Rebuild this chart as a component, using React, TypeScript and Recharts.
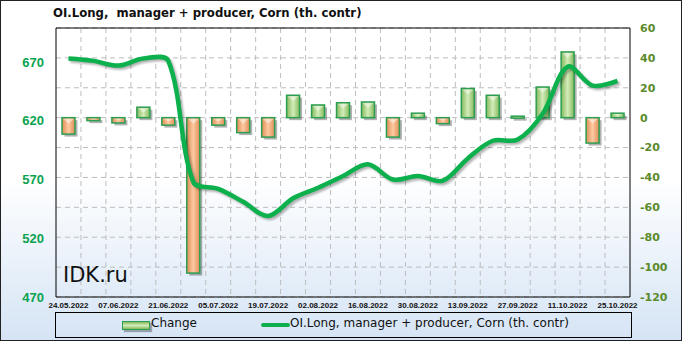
import React from "react";
import {
  Bar,
  CartesianGrid,
  ComposedChart,
  Line,
  ReferenceLine,
  XAxis,
  YAxis
} from "recharts";

const dates = [
  "24.05.2022", "31.05.2022", "07.06.2022", "14.06.2022", "21.06.2022",
  "28.06.2022", "05.07.2022", "12.07.2022", "19.07.2022", "26.07.2022",
  "02.08.2022", "09.08.2022", "16.08.2022", "23.08.2022", "30.08.2022",
  "06.09.2022", "13.09.2022", "20.09.2022", "27.09.2022", "04.10.2022",
  "11.10.2022", "18.10.2022", "25.10.2022"
];

const changeValues = [
  -11, -2, -3.5, 7, -5, -104, -5, -10, -13, 15, 8.5, 10, 10.5, -13, 3, -4,
  19.5, 15, 1, 20.5, 44, -17, 3
];

const oiValues = [
  673, 671, 667, 673, 671, 568, 562, 551, 539, 554, 563, 573, 583, 570, 573,
  569, 588, 603, 604, 626, 666, 650, 654
];

const leftTicks = [470, 520, 570, 620, 670];
const rightTicks = [-120, -100, -80, -60, -40, -20, 0, 20, 40, 60];

const data = dates.map((date, i) => ({
  date,
  change: changeValues[i],
  oi: oiValues[i]
}));

const TITLE = "OI.Long,  manager + producer, Corn (th. contr)";
const LINE_COLOR = "#0cb04c";

// smoothing like office charts: control points scaled by neighbouring segment lengths
const smoothCurve = (context: any) => {
  let pts: number[][] = [];
  const dist = (a: number[], b: number[]) => Math.hypot(b[0] - a[0], b[1] - a[1]) || 1;
  return {
    areaStart() {},
    areaEnd() {},
    lineStart() {
      pts = [];
    },
    point(x: number, y: number) {
      pts.push([+x, +y]);
    },
    lineEnd() {
      if (!pts.length) return;
      context.moveTo(pts[0][0], pts[0][1]);
      for (let i = 0; i < pts.length - 1; i++) {
        const p0 = pts[i - 1] || pts[i];
        const p1 = pts[i];
        const p2 = pts[i + 1];
        const p3 = pts[i + 2] || p2;
        const a = dist(p0, p1);
        const b = dist(p1, p2);
        const c = dist(p2, p3);
        const k1 = pts[i - 1] ? b / (a + b) / 3 : 0;
        const k2 = pts[i + 2] ? b / (b + c) / 3 : 0;
        context.bezierCurveTo(
          p1[0] + (p2[0] - p0[0]) * k1,
          p1[1] + (p2[1] - p0[1]) * k1,
          p2[0] - (p3[0] - p1[0]) * k2,
          p2[1] - (p3[1] - p1[1]) * k2,
          p2[0],
          p2[1]
        );
      }
    }
  };
};

const BevelBar = (props: any) => {
  const { x, y, width, height, value } = props;
  if (x == null || y == null) return null;
  const top = Math.min(y, y + height);
  const h = Math.max(Math.abs(height), 2);
  const positive = (Array.isArray(value) ? value[1] - value[0] : value) >= 0;
  const bevel = Math.min(6, h / 2);
  return (
    <g>
      <rect x={x + 2.5} y={top + 2.5} width={width} height={h} fill="#000" opacity={0.3} />
      <rect
        x={x}
        y={top}
        width={width}
        height={h}
        fill={positive ? "url(#gradGreen)" : "url(#gradOrange)"}
        stroke="#2c9e52"
        strokeWidth={1.5}
      />
      <polygon
        points={`${x + 1},${top + 1} ${x + width - 1},${top + 1} ${x + width / 2},${top + bevel}`}
        fill="#ffffff"
        opacity={0.45}
      />
    </g>
  );
};

const legendText: React.CSSProperties = {
  position: "absolute",
  top: 315,
  fontFamily: "'DejaVu Sans', Tahoma, sans-serif",
  fontSize: 12,
  color: "#111"
};

export default function App() {
  return (
    <div
      style={{
        position: "absolute",
        left: 0,
        top: 0,
        width: 682,
        height: 341,
        boxSizing: "border-box",
        border: "1px solid #222",
        background: "linear-gradient(180deg, #ffffff 0%, #ffffff 52%, #d5e4f5 100%)",
        overflow: "hidden"
      }}
    >
      <style>{`.recharts-line-curve { filter: drop-shadow(2px 2px 1.2px rgba(0,0,0,0.3)); }`}</style>
      <div
        style={{
          position: "absolute",
          left: 52,
          top: 5,
          fontFamily: "'DejaVu Sans', Tahoma, sans-serif",
          fontWeight: "bold",
          fontSize: 11.7,
          color: "#111",
          whiteSpace: "pre"
        }}
      >
        {TITLE}
      </div>
      <div style={{ position: "absolute", left: -1, top: -1 }}>
        <ComposedChart
          width={682}
          height={341}
          data={data}
          margin={{ top: 28, right: 0, bottom: 30, left: 0 }}
        >
          <defs>
            <linearGradient id="gradGreen" x1="0" y1="0" x2="1" y2="0">
              <stop offset="0%" stopColor="#84b95c" />
              <stop offset="50%" stopColor="#d3ecb9" />
              <stop offset="100%" stopColor="#84b95c" />
            </linearGradient>
            <linearGradient id="gradOrange" x1="0" y1="0" x2="1" y2="0">
              <stop offset="0%" stopColor="#de8d55" />
              <stop offset="50%" stopColor="#fdcaa2" />
              <stop offset="100%" stopColor="#de8d55" />
            </linearGradient>
          </defs>
          <CartesianGrid
            yAxisId="right"
            stroke="#bdbdbd"
            strokeDasharray="5 4"
            verticalCoordinatesGenerator={({ offset }: any) =>
              dates.slice(1).map((_, i) => offset.left + (offset.width * (i + 1)) / dates.length)
            }
          />
          <XAxis
            dataKey="date"
            interval={1}
            height={14}
            tickLine={false}
            tickSize={4}
            tickMargin={1}
            axisLine={{ stroke: "#000" }}
            tick={{
              fill: "#111",
              fontSize: 8,
              fontWeight: "bold",
              fontFamily: "'Liberation Sans', Arial, sans-serif"
            }}
          />
          <YAxis
            yAxisId="left"
            domain={[470, 699]}
            ticks={leftTicks}
            allowDataOverflow
            width={56}
            tickLine={false}
            tickSize={6}
            tickMargin={6}
            axisLine={{ stroke: "#000" }}
            tick={{
              fill: "#0aa34f",
              fontSize: 13,
              fontWeight: "bold",
              fontFamily: "'Liberation Sans', Arial, sans-serif"
            }}
          />
          <YAxis
            yAxisId="right"
            orientation="right"
            domain={[-120, 60]}
            ticks={rightTicks}
            allowDataOverflow
            width={52}
            tickLine={false}
            tickSize={6}
            tickMargin={4}
            axisLine={{ stroke: "#000" }}
            tick={{
              fill: "#5a8a2b",
              fontSize: 11,
              fontWeight: "bold",
              fontFamily: "'DejaVu Sans', Tahoma, sans-serif"
            }}
          />
          <ReferenceLine yAxisId="right" y={60} stroke="#000" />
          <Bar
            yAxisId="right"
            dataKey="change"
            barSize={13}
            shape={BevelBar}
            isAnimationActive={false}
          />
          <Line
            yAxisId="left"
            dataKey="oi"
            type={smoothCurve as any}
            stroke={LINE_COLOR}
            strokeWidth={4.5}
            dot={false}
            activeDot={false}
            isAnimationActive={false}
          />
        </ComposedChart>
      </div>
      <div
        style={{
          position: "absolute",
          left: 62,
          top: 262,
          fontFamily: "'DejaVu Sans', Tahoma, sans-serif",
          fontSize: 21,
          color: "#111"
        }}
      >
        IDK.ru
      </div>
      <div
        style={{
          position: "absolute",
          left: 54,
          top: 311,
          width: 575,
          height: 24,
          border: "1px solid #000"
        }}
      />
      <div
        style={{
          position: "absolute",
          left: 121,
          top: 320,
          width: 26,
          height: 7,
          border: "1px solid #2c9e52",
          background: "linear-gradient(180deg, #84b95c, #d3ecb9 50%, #84b95c)",
          boxShadow: "2px 2px 1px rgba(0,0,0,0.3)"
        }}
      />
      <div style={{ ...legendText, left: 150 }}>Change</div>
      <div
        style={{
          position: "absolute",
          left: 260,
          top: 322,
          width: 29,
          height: 4,
          borderRadius: 2,
          background: LINE_COLOR
        }}
      />
      <div style={{ ...legendText, left: 289 }}>
        OI.Long, manager + producer, Corn (th. contr)
      </div>
    </div>
  );
}
